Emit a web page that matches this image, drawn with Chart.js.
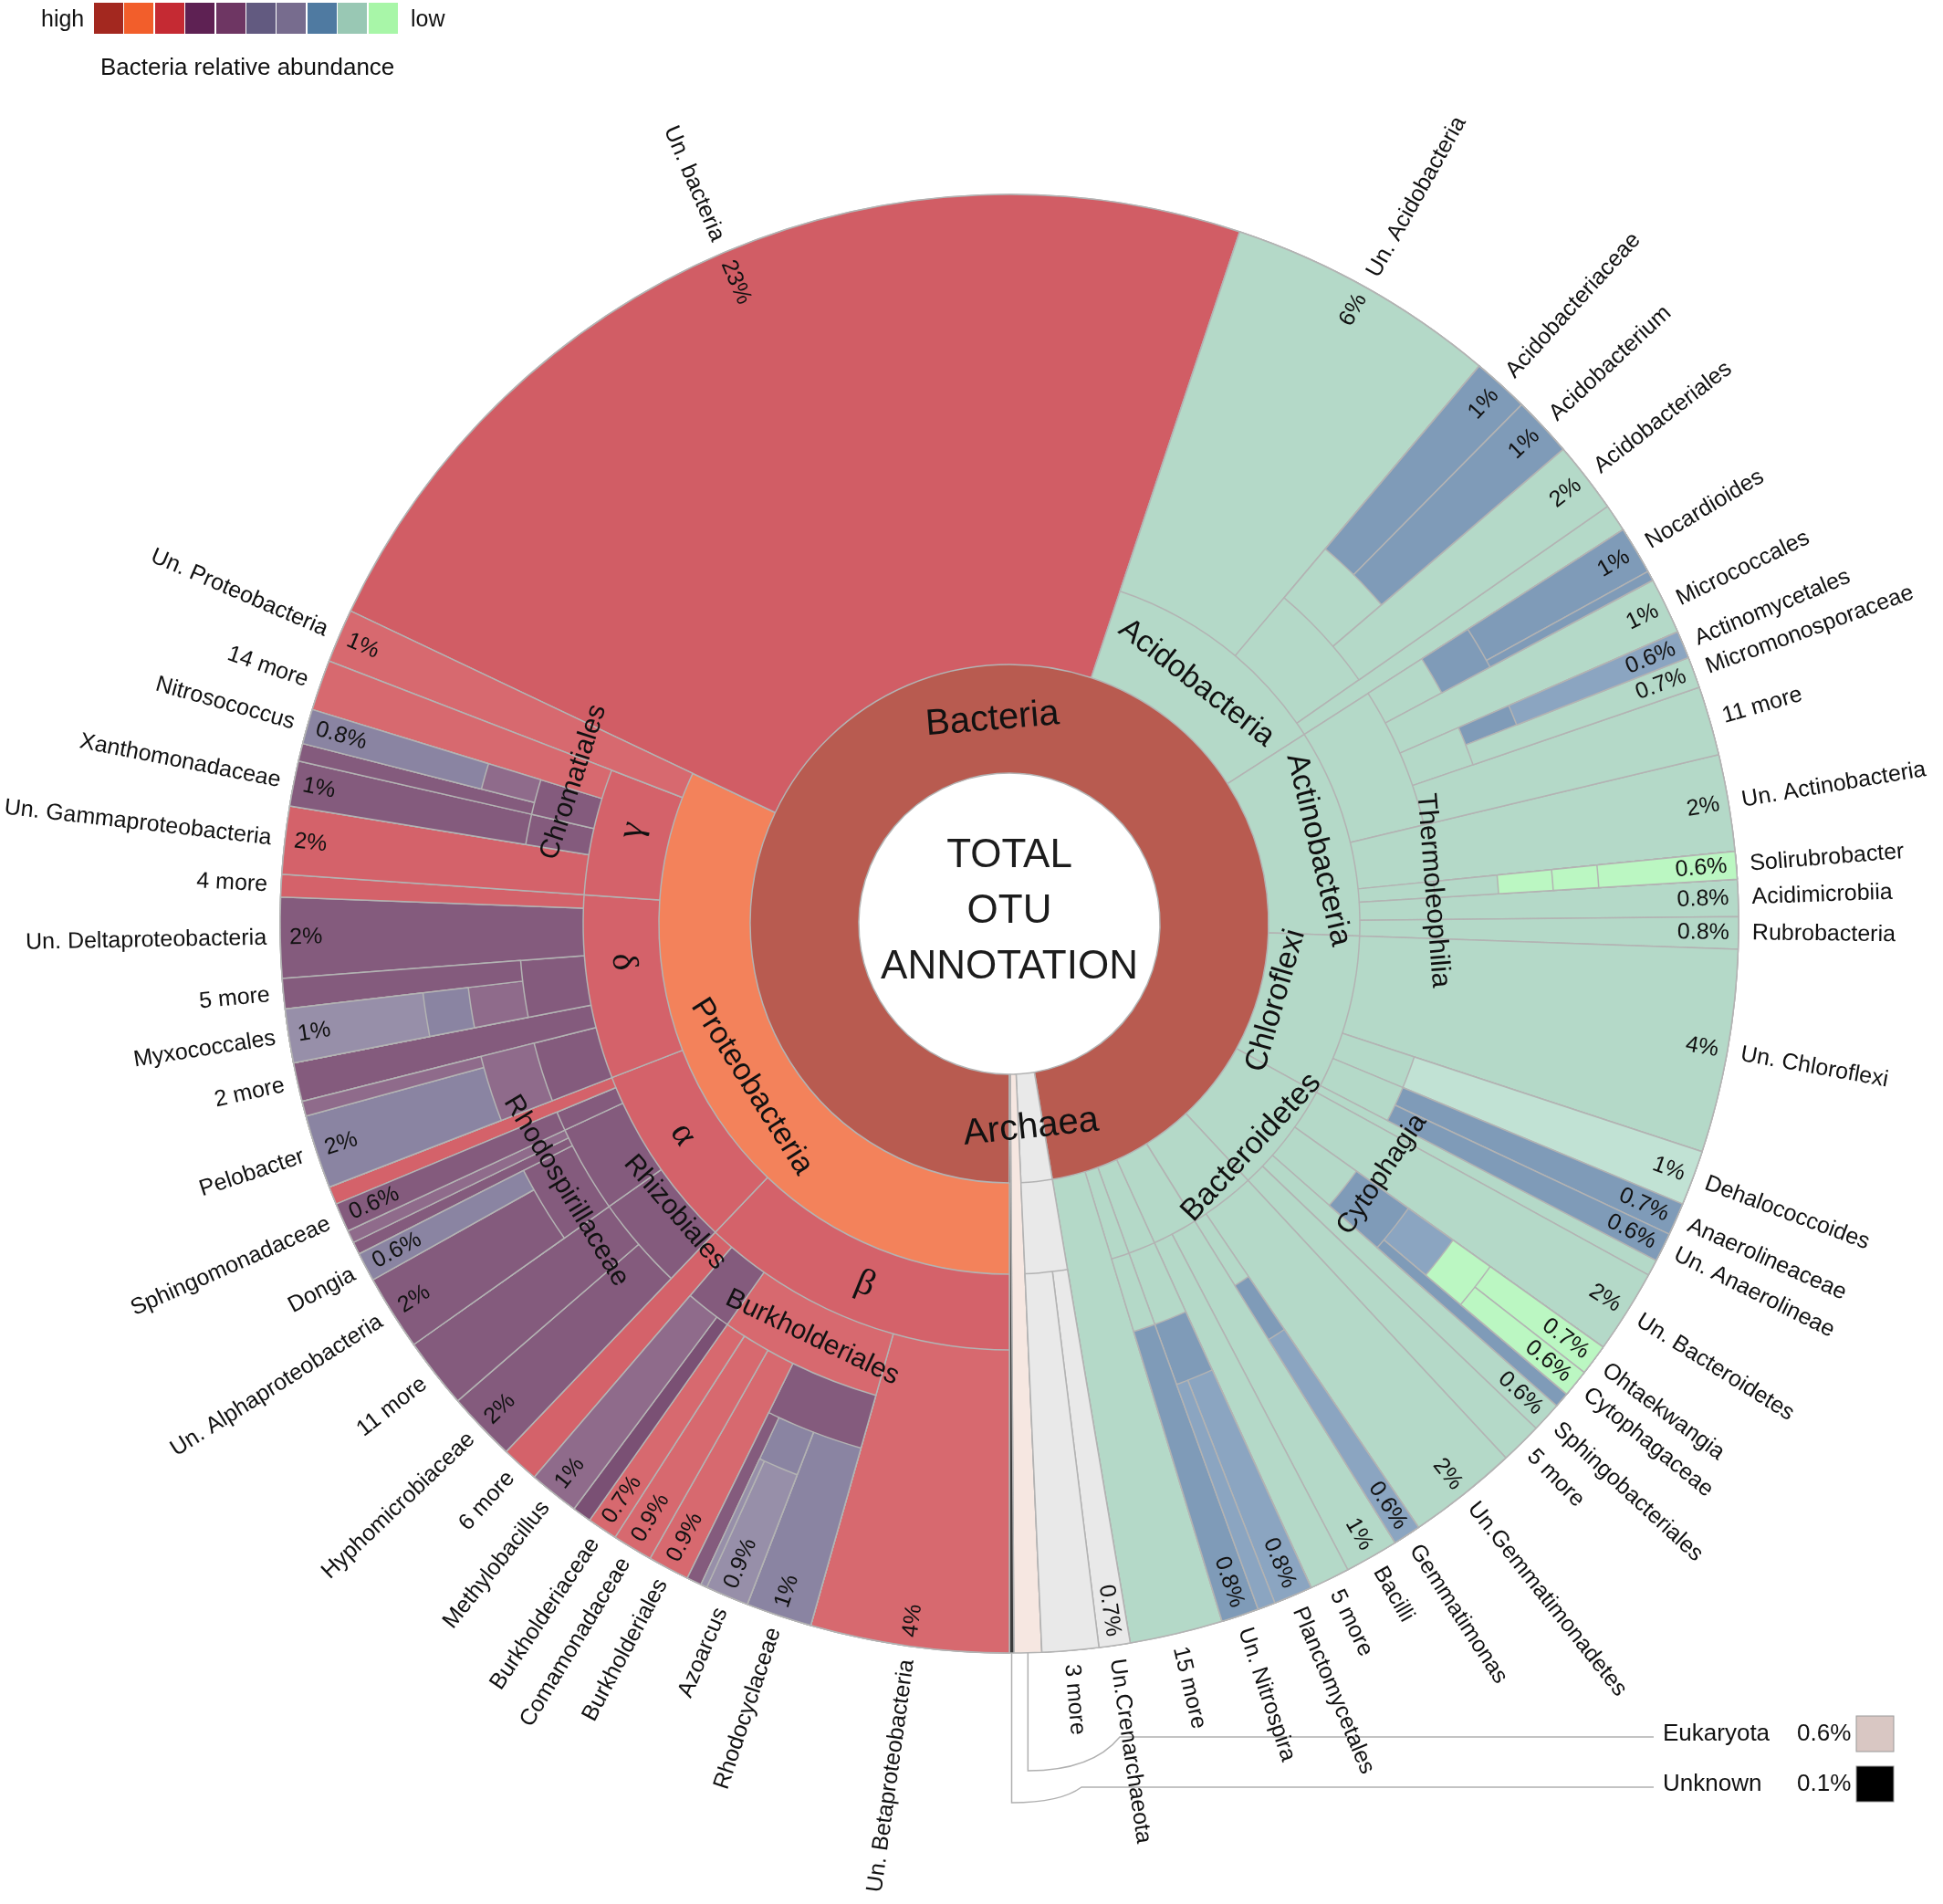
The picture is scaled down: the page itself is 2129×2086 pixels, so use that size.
<!DOCTYPE html>
<html>
<head>
<meta charset="utf-8">
<title>Total OTU annotation</title>
<script src="https://cdn.jsdelivr.net/npm/chart.js@4.4.1/dist/chart.umd.min.js"></script>
<style>
  html, body { margin: 0; padding: 0; background: #fff; }
  #stage { position: relative; width: 2129px; height: 2086px; overflow: hidden;
           font-family: "Liberation Sans", Arial, sans-serif; color: #111; }
  #stage canvas { position: absolute; left: 0; top: 0; }
  .txt { position: absolute; white-space: nowrap; z-index: 5; }
  .swatch { position: absolute; z-index: 5; }
  #center { position: absolute; left: 906px; top: 904px; width: 400px; text-align: center;
            font-size: 44px; line-height: 61px; color: #1c1c1c; z-index: 5; }
</style>
</head>
<body>
<div id="stage">
  <div class="txt" style="left:45px; top:4px; font-size:25px; line-height:33px;">high</div>
  <div class="txt" style="left:450px; top:4px; font-size:25px; line-height:33px;">low</div>
  <div class="txt" style="left:110px; top:57px; font-size:26px; line-height:32px;">Bacteria relative abundance</div>
  <div id="center">TOTAL<br>OTU<br>ANNOTATION</div>
</div>
<script>
// --- Data: taxonomy in depth-first order, '' = unnamed rank ---
const taxa = [
  'Bacteria', 'Proteobacteria',
  'β', 'Un. Betaproteobacteria', 'Burkholderiales', '', 'Rhodocyclaceae', '', 'Azoarcus', '', '',
  'Burkholderiales', 'Comamonadaceae', 'Burkholderiaceae', '', '', 'Methylobacillus', '6 more',
  'α', 'Rhizobiales', 'Hyphomicrobiaceae', '11 more', '', 'Rhodospirillaceae', 'Un. Alphaproteobacteria', 'Dongia', '', '', '', 'Sphingomonadaceae', '',
  'δ', '', '', 'Pelobacter', '', '2 more', '', '', '', 'Myxococcales', '5 more', 'Un. Deltaproteobacteria', '4 more',
  'γ', 'Un. Gammaproteobacteria', '', 'Xanthomonadaceae', 'Chromatiales', '', '', 'Nitrosococcus', '14 more',
  'Un. Proteobacteria', 'Un. bacteria',
  'Acidobacteria', 'Un. Acidobacteria', '', '', 'Acidobacteriaceae', 'Acidobacterium', 'Acidobacteriales', '',
  'Actinobacteria', '', '', '', 'Nocardioides', '', 'Micrococcales', '', '', 'Actinomycetales', 'Micromonosporaceae', '11 more',
  'Un. Actinobacteria', 'Thermoleophilia', '', '', '', 'Solirubrobacter', 'Acidimicrobiia', 'Rubrobacteria',
  'Chloroflexi', 'Un. Chloroflexi', '', 'Dehalococcoides', '', 'Anaerolineaceae', 'Un. Anaerolineae', '',
  'Bacteroidetes', 'Un. Bacteroidetes', '', 'Cytophagia', '', '', 'Ohtaekwangia', 'Cytophagaceae', '', 'Sphingobacteriales', '5 more',
  '', 'Un.Gemmatimonadetes', '', '', 'Gemmatimonas',
  '', 'Bacilli', '5 more',
  '', '', '', 'Planctomycetales', '',
  '', '', 'Un. Nitrospira',
  '15 more',
  'Archaea', '', 'Un.Crenarchaeota', '3 more',
  'Eukaryota', 'Unknown'
];

const depths = [
  1, 2,
  3, 4, 4, 5, 6, 6, 7, 7, 6,
  5, 5, 5, 4, 5, 5, 4,
  3, 4, 5, 5, 4, 5, 6, 6, 5, 5, 4, 5, 4,
  3, 4, 5, 6, 6, 4, 4, 5, 6, 7, 5, 4, 4,
  3, 4, 4, 5, 4, 5, 5, 6, 4,
  3, 2,
  2, 3, 3, 4, 5, 5, 4, 3,
  2, 3, 4, 5, 6, 6, 4, 4, 5, 6, 5, 4,
  3, 3, 4, 5, 6, 7, 3, 3,
  2, 3, 3, 4, 3, 4, 4, 3,
  2, 3, 3, 4, 5, 6, 7, 7, 5, 3, 3,
  2, 3, 3, 4, 5,
  2, 3, 3,
  2, 3, 4, 5, 5,
  2, 3, 4,
  2,
  1, 2, 3, 3,
  1, 1
];

// relative abundance (%) of each end piece; null = group (sum of its children)
const shares = [
  null, null,
  null, 4.39, null, null, 1.46, null, 0.96, 0.14, 0.33,
  0.92, 0.89, 0.67, null, 0.42, 1.11, 0.83,
  null, null, 1.53, 1.56, null, null, 1.67, 0.64, 0.28, 0.28, null, 0.64, 0.40,
  null, null, null, 1.63, 0.33, 0.86, null, null, null, 1.19, 0.67, 1.78, 0.50,
  null, 1.50, null, 1.00, null, 0.39, null, 0.77, 1.12,
  1.19, 23.06,
  null, 6.03, null, null, 1.25, 1.33, 1.58, 0.61,
  null, null, null, null, 1.06, 0.22, 1.25, null, null, 0.61, 0.69, 1.53,
  2.14, null, null, null, null, 0.61, 0.82, 0.71,
  null, 4.50, null, 1.22, null, 0.72, 0.64, 0.36,
  null, 1.86, null, null, null, null, 0.69, 0.61, 0.33, 0.67, 0.92,
  null, 2.44, null, null, 0.61,
  null, 1.19, 0.89,
  null, null, null, 0.86, 0.39,
  null, null, 0.83,
  2.06,
  null, null, 0.69, 1.25,
  0.61, 0.10
];

const shareLabels = [
  '', '',
  '', '4%', '', '', '1%', '', '0.9%', '', '',
  '0.9%', '0.9%', '0.7%', '', '', '1%', '',
  '', '', '2%', '', '', '', '2%', '0.6%', '', '', '', '0.6%', '',
  '', '', '', '2%', '', '', '', '', '', '1%', '', '2%', '',
  '', '2%', '', '1%', '', '', '', '0.8%', '',
  '1%', '23%',
  '', '6%', '', '', '1%', '1%', '2%', '',
  '', '', '', '', '1%', '', '1%', '', '', '0.6%', '0.7%', '',
  '2%', '', '', '', '', '0.6%', '0.8%', '0.8%',
  '', '4%', '', '1%', '', '0.7%', '0.6%', '',
  '', '2%', '', '', '', '', '0.7%', '0.6%', '', '0.6%', '',
  '', '2%', '', '', '0.6%',
  '', '1%', '',
  '', '', '', '0.8%', '',
  '', '', '0.8%',
  '',
  '', '', '0.7%', '',
  '0.6%', '0.1%'
];

// --- Style ---
const shades = [
  'BAC', 'ORG',
  'RED', 'REDL', 'REDL', 'PUR', 'GP', 'GP', 'GPL', 'GPL', 'PUR',
  'REDL', 'REDL', 'REDL', 'PUR', 'PURD', 'PURL', 'RED',
  'RED', 'PUR', 'PUR', 'PUR', 'PUR', 'PUR', 'PUR', 'GP', 'PUR', 'PURL', 'PUR', 'PUR', 'RED',
  'RED', 'PUR', 'PURL', 'GP', 'PURL', 'PUR', 'PUR', 'PURL', 'GP', 'GPL', 'PUR', 'PUR', 'RED',
  'RED', 'RED', 'PUR', 'PUR', 'PUR', 'PUR', 'PURL', 'GP', 'REDL',
  'REDL', 'REDB',
  'MINT', 'MINT', 'MINT', 'MINT', 'BLUE', 'BLUE', 'MINT', 'MINT',
  'MINT', 'MINT', 'MINT', 'BLUE', 'BLUE', 'BLUE', 'MINT', 'MINT', 'BLUE', 'BLUEL', 'MINT', 'MINT',
  'MINT', 'MINT', 'MINT', 'LG', 'LG', 'LG', 'MINT', 'MINT',
  'MINT', 'MINT', 'MINT', 'MINTL', 'MINT', 'BLUE', 'BLUE', 'MINT',
  'MINT', 'MINT', 'MINT', 'BLUE', 'BLUEL', 'LG', 'LG', 'LG', 'BLUE', 'MINT', 'MINT',
  'MINT', 'MINT', 'MINT', 'BLUE', 'BLUEL',
  'MINT', 'MINT', 'MINT',
  'MINT', 'MINT', 'BLUE', 'BLUEL', 'BLUEL',
  'MINT', 'MINT', 'BLUE',
  'MINT',
  'GREY', 'GREY', 'GREY', 'GREY',
  'PINK', 'DARK'
];

const palette = {
  BAC: '#b85b50', ORG: '#f3825b', REDB: '#d15d65', RED: '#d4626a', REDL: '#d7696f',
  PUR: '#845b7d', PURL: '#8f6b8b', PURD: '#7a5074', GP: '#8a84a2', GPL: '#978fa9',
  MINT: '#b4d9c8', MINTL: '#c1e2d4', BLUE: '#7f9bb8', BLUEL: '#8ba5c1', LG: '#bbf7c2',
  GREY: '#e9e9e9', PINK: '#f6e7e1', DARK: '#3b3b3b'
};
const legendColors = ['#a3281f', '#f25e2b', '#c52a33', '#5e2153', '#6e3663',
                      '#625a80', '#776c8e', '#4f7aa1', '#99c8b4', '#a8f6a8'];
const calloutSwatch = { Eukaryota: '#d9c7c3', Unknown: '#000000' };

// --- Layout ---
const W = 2129, H = 2086;
const CX = 1106, CY = 1012, R = 799, BOX = 1640;
const ringInner = [165, 284, 384, 467, 537, 597, 647];
const calloutDrop = [1940, 1975];
const calloutJoinX = [1227, 1185];
const calloutLineY = [1903, 1958];
// ring labels moved off their mid-angle / mid-ring (degrees, px), as in the original figure
const labelNudge = {
  'Actinobacteria': [1.9, 14], 'Chloroflexi': [0.7, -30], 'Bacteroidetes': [4.8, 27],
  'Thermoleophilia': [0.1, 40], 'Cytophagia': [-4.5, -10], 'Chromatiales': [3, 0],
  'Rhizobiales': [0, -18], 'δ': [3, 0], 'γ': [1.4, 0], 'α': [0.9, 0]
};

const stage = document.getElementById('stage');

legendColors.forEach((c, k) => {
  const sw = document.createElement('div');
  sw.className = 'swatch';
  sw.style.cssText = `left:${103 + k * 33.4}px; top:3px; width:32px; height:34px; background:${c};`;
  stage.appendChild(sw);
});

// subtree extents and totals
const n = taxa.length;
const subtreeEnd = [];
const totals = [];
for (let i = 0; i < n; i++) {
  let j = i + 1;
  while (j < n && depths[j] > depths[i]) j++;
  subtreeEnd[i] = j;
  let s = 0;
  for (let k = i; k < j; k++) if (shares[k] != null) s += shares[k];
  totals[i] = s;
}
const isLeaf = (i) => subtreeEnd[i] === i + 1;

// one ring per depth: nodes of that depth, transparent where a shallower branch ends
function ringData(d) {
  const values = [], colors = [], widths = [], owners = [];
  let i = 0;
  while (i < n) {
    if (depths[i] === d) {
      values.push(totals[i]);
      colors.push(palette[shades[i]]);
      widths.push(1.5);
      owners.push(i);
      i = subtreeEnd[i];
    } else {
      if (isLeaf(i)) {
        values.push(shares[i]);
        colors.push('rgba(0,0,0,0)');
        widths.push(0);
        owners.push(-1);
      }
      i++;
    }
  }
  return { values, colors, widths, owners };
}

function drawRingLabel(ctx, p, a, depth, name) {
  const nudge = labelNudge[name] || [0, 0];
  const r = (ringInner[depth - 1] + (ringInner[depth] || R)) / 2 + nudge[1];
  a += nudge[0] * Math.PI / 180;
  const greek = name.length === 1;
  ctx.save();
  ctx.translate(p.x + r * Math.cos(a), p.y + r * Math.sin(a));
  ctx.rotate(Math.sin(a) < 0 ? a + Math.PI / 2 : a - Math.PI / 2);
  const size = greek ? 40 : depth === 1 ? 40 : depth === 2 ? 34 : 30;
  ctx.font = size + 'px ' + (greek ? '"Liberation Serif", serif' : '"Liberation Sans", Arial, sans-serif');
  ctx.fillStyle = '#111';
  ctx.textAlign = 'center';
  ctx.textBaseline = 'middle';
  ctx.fillText(name, 0, 0);
  ctx.restore();
}

function drawLeafLabel(ctx, p, a, name, pct) {
  const right = Math.cos(a) >= 0;
  const s = right ? 1 : -1;
  ctx.save();
  ctx.translate(p.x, p.y);
  ctx.rotate(right ? a : a + Math.PI);
  ctx.fillStyle = '#111';
  ctx.textBaseline = 'middle';
  ctx.font = '25px "Liberation Sans", Arial, sans-serif';
  ctx.textAlign = right ? 'left' : 'right';
  ctx.fillText(name, s * (R + 15), 0);
  if (pct) {
    ctx.textAlign = right ? 'right' : 'left';
    ctx.fillText(pct, s * (R - 10), 0);
  }
  ctx.restore();
}

function drawCallout(ctx, p, a, i, k) {
  const x0 = p.x + R * Math.cos(a);
  const y0 = p.y + R * Math.sin(a);
  const yDrop = calloutDrop[k], xJoin = calloutJoinX[k], yLine = calloutLineY[k];
  ctx.save();
  ctx.strokeStyle = '#b0b0b0';
  ctx.lineWidth = 1.5;
  ctx.beginPath();
  ctx.moveTo(x0, y0);
  ctx.lineTo(x0, yDrop);
  ctx.quadraticCurveTo(x0 + (xJoin - x0) * 0.7, yDrop, xJoin, yLine);
  ctx.lineTo(1812, yLine);
  ctx.stroke();
  ctx.fillStyle = '#111';
  ctx.textBaseline = 'middle';
  ctx.textAlign = 'left';
  ctx.font = '26px "Liberation Sans", Arial, sans-serif';
  ctx.fillText(taxa[i], 1822, yLine - 3);
  ctx.fillText(shareLabels[i], 1969, yLine - 3);
  ctx.fillStyle = calloutSwatch[taxa[i]];
  ctx.fillRect(2034, yLine - 23, 41, 39);
  ctx.strokeStyle = '#999';
  ctx.lineWidth = 1;
  ctx.strokeRect(2034, yLine - 23, 41, 39);
  ctx.restore();
}

const ringCharts = [];
const ringOwners = [];

const labelPlugin = {
  id: 'otuLabels',
  afterDraw(chart) {
    const charts = ringCharts.includes(chart) ? ringCharts : ringCharts.concat(chart);
    const ctx = chart.ctx;
    let callout = 0;
    charts.forEach((c, k) => {
      c.getDatasetMeta(0).data.forEach((arc, j) => {
        const i = ringOwners[k][j];
        if (i < 0 || !taxa[i]) return;
        const p = arc.getProps(['x', 'y', 'startAngle', 'endAngle'], true);
        const a = (p.startAngle + p.endAngle) / 2;
        if (!isLeaf(i)) drawRingLabel(ctx, p, a, k + 1, taxa[i]);
        else if (k === 0) drawCallout(ctx, p, a, i, callout++);
        else drawLeafLabel(ctx, p, a, taxa[i], shareLabels[i]);
      });
    });
  }
};

const maxDepth = Math.max(...depths);
for (let d = 1; d <= maxDepth; d++) {
  const ring = ringData(d);
  ringOwners.push(ring.owners);
  const canvas = document.createElement('canvas');
  canvas.width = W;
  canvas.height = H;
  stage.appendChild(canvas);
  const chart = new Chart(canvas, {
    type: 'doughnut',
    data: {
      labels: ring.owners.map((i) => (i < 0 ? '' : taxa[i])),
      datasets: [{
        data: ring.values,
        backgroundColor: ring.colors,
        borderColor: '#b3b3b3',
        borderWidth: ring.widths,
        hoverOffset: 0,
      }],
    },
    options: {
      responsive: false,
      devicePixelRatio: 1,
      animation: false,
      events: [],
      rotation: 180,
      circumference: 360,
      radius: R,
      cutout: (ringInner[d - 1] / R * 100) + '%',
      layout: {
        padding: {
          left: CX - BOX / 2,
          right: W - CX - BOX / 2,
          top: CY - BOX / 2,
          bottom: H - CY - BOX / 2,
        },
      },
      plugins: { legend: { display: false }, tooltip: { enabled: false } },
    },
    plugins: d === maxDepth ? [labelPlugin] : [],
  });
  ringCharts.push(chart);
}
</script>
</body>
</html>
